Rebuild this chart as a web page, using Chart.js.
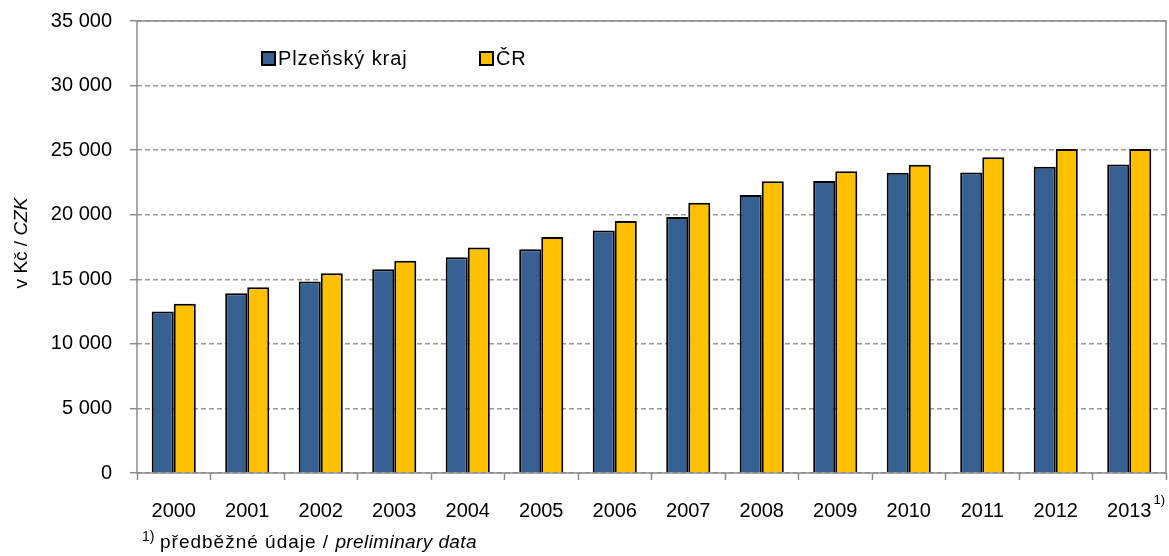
<!DOCTYPE html>
<html>
<head>
<meta charset="utf-8">
<script src="https://cdn.jsdelivr.net/npm/chart.js@4"></script>
<style>
  body { margin: 0; background: #fff; }
  #wrap { width: 1169px; height: 556px; position: relative; }
</style>
</head>
<body>
<div id="wrap"><canvas id="myChart"></canvas></div>
<script>
// Data
const years = ['2000', '2001', '2002', '2003', '2004', '2005', '2006', '2007', '2008', '2009', '2010', '2011', '2012', '2013'];
const plzen = [12500, 13920, 14820, 15780, 16710, 17330, 18770, 19830, 21530, 22610, 23250, 23260, 23720, 23880];
const cr = [13100, 14380, 15460, 16430, 17470, 18280, 19510, 20930, 22600, 23370, 23870, 24440, 25080, 25080];
const seriesNames = ['Plzeňský kraj', 'ČR'];
const yTitle = ['v Kč / ', 'CZK'];
const footnote = ['předběžné údaje / ', 'preliminary data'];
const markedYear = '2013';

const FONT = '"Liberation Sans", Arial, sans-serif';
const GRAY = '#8c8c8c';

// cisla s mezerou jako oddelovac tisicu
function fmt(v) {
    return String(v).replace(/\B(?=(\d{3})+(?!\d))/g, ' ');
}

// ramecek, legenda, popisek osy a poznamka
const extras = {
    id: 'extras',
    beforeDatasetsDraw(chart) {
        const a = chart.chartArea;
        const ctx = chart.ctx;
        ctx.save();
        ctx.strokeStyle = GRAY;
        ctx.lineWidth = 1.5;
        ctx.strokeRect(a.left, a.top, a.right - a.left, a.bottom - a.top);
        ctx.restore();
    },
    afterDraw(chart) {
        const ctx = chart.ctx;
        ctx.save();

        // legenda
        const legendX = [262, 480];
        chart.data.datasets.forEach((ds, i) => {
            const x = legendX[i];
            ctx.fillStyle = ds.backgroundColor;
            ctx.fillRect(x, 52, 13, 13);
            ctx.strokeStyle = '#000';
            ctx.lineWidth = 2;
            ctx.strokeRect(x, 52, 13, 13);
            ctx.fillStyle = '#000';
            ctx.font = '20px ' + FONT;
            ctx.letterSpacing = '0.9px';
            ctx.textBaseline = 'middle';
            ctx.textAlign = 'left';
            ctx.fillText(ds.label, x + 16, 59);
        });
        ctx.letterSpacing = '0px';

        // popisek osy y
        ctx.save();
        ctx.translate(22, 243);
        ctx.rotate(-Math.PI / 2);
        ctx.textBaseline = 'middle';
        ctx.textAlign = 'left';
        ctx.font = '19px ' + FONT;
        const w1 = ctx.measureText(yTitle[0]).width;
        ctx.font = 'italic 19px ' + FONT;
        const w2 = ctx.measureText(yTitle[1]).width;
        const sx = -(w1 + w2) / 2;
        ctx.font = '19px ' + FONT;
        ctx.fillText(yTitle[0], sx, 0);
        ctx.font = 'italic 19px ' + FONT;
        ctx.fillText(yTitle[1], sx + w1, 0);
        ctx.restore();

        // index 1) u posledniho roku
        const xs = chart.scales.x;
        const idx = years.indexOf(markedYear);
        const cx = xs.getPixelForValue(idx);
        ctx.font = '20px ' + FONT;
        const lw = ctx.measureText(markedYear).width;
        ctx.font = '13px ' + FONT;
        ctx.textBaseline = 'middle';
        ctx.textAlign = 'left';
        ctx.fillText('1)', cx + lw / 2 + 2, 500);

        // poznamka pod grafem
        ctx.font = '14px ' + FONT;
        ctx.fillText('1)', 142, 537);
        ctx.letterSpacing = '1px';
        ctx.font = '19px ' + FONT;
        ctx.fillText(footnote[0], 160, 543);
        const fw = ctx.measureText(footnote[0]).width;
        ctx.letterSpacing = '0.4px';
        ctx.font = 'italic 19px ' + FONT;
        ctx.fillText(footnote[1], 160 + fw, 543);
        ctx.restore();
    }
};

const ctx = document.getElementById('myChart').getContext('2d');
new Chart(ctx, {
    type: 'bar',
    data: {
        labels: years,
        datasets: [{
            label: seriesNames[0],
            data: plzen,
            backgroundColor: '#376092',
            borderColor: '#000',
            borderWidth: 2,
            borderSkipped: 'start'
        }, {
            label: seriesNames[1],
            data: cr,
            backgroundColor: '#FFC000',
            borderColor: '#000',
            borderWidth: 2,
            borderSkipped: 'start'
        }]
    },
    options: {
        responsive: true,
        maintainAspectRatio: false,
        animation: false,
        layout: { padding: { top: 21, right: 3, left: 0, bottom: 0 } },
        datasets: { bar: { categoryPercentage: 0.6, barPercentage: 1.0 } },
        plugins: {
            legend: { display: false },
            tooltip: { enabled: false }
        },
        scales: {
            x: {
                grid: {
                    display: true,
                    drawOnChartArea: false,
                    drawTicks: true,
                    tickLength: 7,
                    tickColor: GRAY,
                    tickWidth: 1.5,
                    offset: true
                },
                border: { display: false },
                ticks: {
                    color: '#000',
                    font: { family: FONT, size: 20 },
                    padding: 19,
                    maxRotation: 0,
                    autoSkip: false
                },
                afterFit: s => { s.height = 83; s.paddingLeft = 0; s.paddingRight = 0; }
            },
            y: {
                min: 0,
                max: 35000,
                grid: {
                    color: '#999',
                    lineWidth: 1.4,
                    tickColor: GRAY,
                    tickWidth: 1.5,
                    tickLength: 7,
                    tickBorderDash: []
                },
                border: { display: false, dash: [5, 3] },
                ticks: {
                    stepSize: 5000,
                    color: '#000',
                    font: { family: FONT, size: 20 },
                    padding: 18,
                    callback: v => fmt(v)
                },
                afterFit: s => { s.width = 137; s.paddingTop = 0; s.paddingBottom = 0; }
            }
        }
    },
    plugins: [extras]
});
</script>
</body>
</html>
